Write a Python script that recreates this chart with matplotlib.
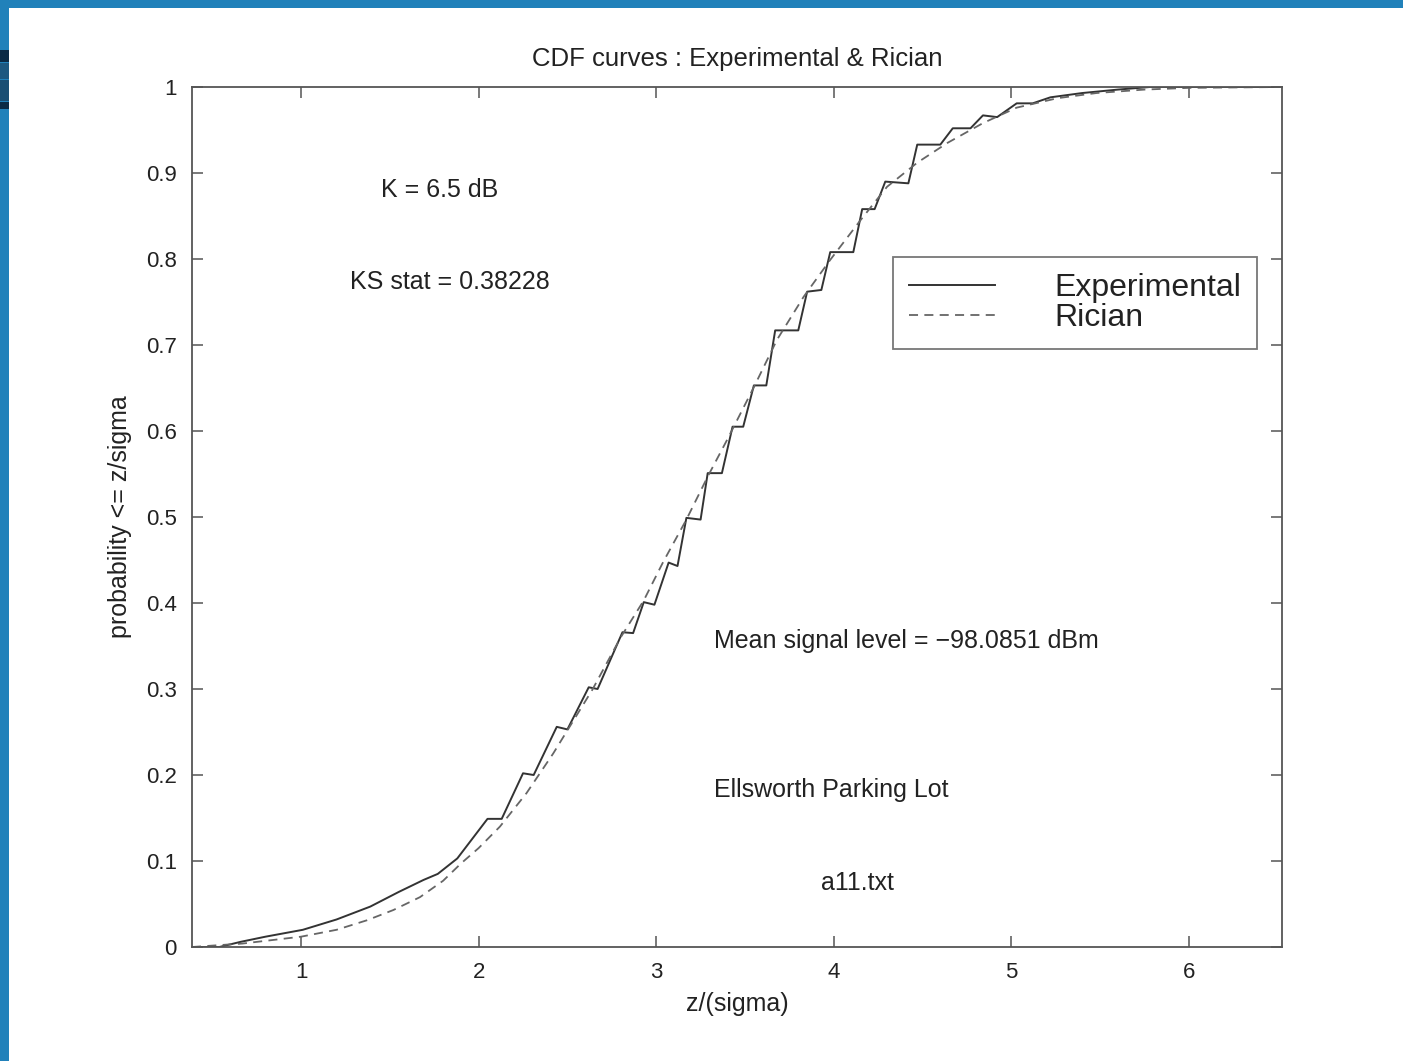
import matplotlib
matplotlib.use("Agg")
import matplotlib.pyplot as plt
from matplotlib.patches import Rectangle

# experimental CDF (staircase-like polyline)
exp_x = [0.386, 0.54, 0.66, 0.80, 1.01, 1.20, 1.39, 1.55, 1.69, 1.77, 1.88,
         2.05, 2.13, 2.25, 2.31, 2.44, 2.50, 2.62, 2.67, 2.81, 2.87, 2.93,
         2.99, 3.07, 3.12, 3.17, 3.25, 3.29, 3.37, 3.43, 3.49, 3.55, 3.62,
         3.67, 3.80, 3.85, 3.93, 3.98, 4.11, 4.16, 4.23, 4.29, 4.42, 4.47,
         4.60, 4.67, 4.77, 4.84, 4.92, 5.03, 5.12, 5.22, 5.40, 5.60, 5.78, 6.524]
exp_y = [0.0, 0.0, 0.006, 0.012, 0.020, 0.032, 0.047, 0.064, 0.078, 0.085, 0.103,
         0.149, 0.149, 0.202, 0.200, 0.256, 0.253, 0.302, 0.300, 0.366, 0.365, 0.401,
         0.398, 0.447, 0.443, 0.499, 0.497, 0.551, 0.551, 0.605, 0.605, 0.653, 0.653,
         0.717, 0.717, 0.762, 0.764, 0.808, 0.808, 0.858, 0.858, 0.890, 0.888, 0.933,
         0.933, 0.952, 0.952, 0.967, 0.965, 0.981, 0.981, 0.988, 0.993, 0.997, 1.0, 1.0]

# fitted Rician CDF
ric_x = [0.386, 0.67, 1.0, 1.20, 1.37, 1.52, 1.67, 1.80, 1.90, 2.00, 2.12, 2.27,
         2.42, 2.53, 2.64, 2.80, 2.93, 3.04, 3.17, 3.29, 3.40, 3.55, 3.68, 3.83,
         3.98, 4.15, 4.30, 4.47, 4.64, 4.84, 5.03, 5.26, 5.48, 5.75, 6.0, 6.524]
ric_y = [0.0, 0.004, 0.012, 0.020, 0.031, 0.043, 0.058, 0.077, 0.097, 0.115, 0.140, 0.179,
         0.225, 0.262, 0.299, 0.360, 0.403, 0.448, 0.497, 0.547, 0.590, 0.651, 0.706, 0.756,
         0.799, 0.845, 0.884, 0.912, 0.935, 0.958, 0.976, 0.987, 0.993, 0.997, 0.999, 1.0]

x_ticks = [1, 2, 3, 4, 5, 6]
x_labels = ["1", "2", "3", "4", "5", "6"]
y_ticks = [0, 0.1, 0.2, 0.3, 0.4, 0.5, 0.6, 0.7, 0.8, 0.9, 1.0]
y_labels = ["0", "0.1", "0.2", "0.3", "0.4", "0.5", "0.6", "0.7", "0.8", "0.9", "1"]

notes = [
    (1.45, 0.880, "K = 6.5 dB"),
    (1.276, 0.773, "KS stat = 0.38228"),
    (3.325, 0.356, "Mean signal level = \u221298.0851 dBm"),
    (3.325, 0.183, "Ellsworth Parking Lot"),
    (3.93, 0.074, "a11.txt"),
]

plt.rcParams["font.family"] = ["Liberation Sans", "DejaVu Sans"]
ink = "#222222"

fig = plt.figure(figsize=(14.03, 10.61), dpi=100)
fig.patch.set_facecolor("white")

# slide frame (blue band on top and left edge)
blue = "#2181ba"
fig.patches.append(Rectangle((0, 1 - 8 / 1061), 1, 8 / 1061, transform=fig.transFigure,
                             facecolor=blue, edgecolor="none", zorder=0))
fig.patches.append(Rectangle((0, 0), 9 / 1403, 1, transform=fig.transFigure,
                             facecolor=blue, edgecolor="none", zorder=0))
for y0, h, c in [(50, 12, "#0b2a45"), (63, 16, "#1d5880"), (80, 21, "#1a4e73"), (102, 7, "#0b2a45")]:
    fig.patches.append(Rectangle((0, 1 - (y0 + h) / 1061), 9 / 1403, h / 1061,
                                 transform=fig.transFigure, facecolor=c,
                                 edgecolor="none", zorder=1))

ax = fig.add_axes([192 / 1403, 1 - 947 / 1061, 1090 / 1403, 860 / 1061])

ax.plot(exp_x, exp_y, color="#333333", linewidth=1.4, label="Experimental")
ax.plot(ric_x, ric_y, color="#666666", linewidth=1.3, linestyle=(0, (5, 3.5)), label="Rician")

ax.set_xlim(0.386, 6.524)
ax.set_ylim(0, 1)
ax.set_xticks(x_ticks)
ax.set_xticklabels(x_labels)
ax.set_yticks(y_ticks)
ax.set_yticklabels(y_labels)
ax.tick_params(direction="in", length=8, width=1.1, top=True, right=True,
               labelsize=16, colors="#555555", labelcolor=ink, pad=11)
for s in ax.spines.values():
    s.set_color("#555555")
    s.set_linewidth(1.3)

ax.set_title("CDF curves : Experimental & Rician", fontsize=18.5, color=ink, pad=15)
ax.set_xlabel("z/(sigma)", fontsize=18, color=ink, labelpad=6)
ax.set_ylabel("probability <= z/sigma", fontsize=18, color=ink, labelpad=10)

for x, y, t in notes:
    ax.text(x, y, t, fontsize=18, color=ink, ha="left", va="center")

leg = ax.legend(loc="upper left", bbox_to_anchor=(0.643, 0.802), fontsize=23,
                frameon=True, fancybox=False, handlelength=2.7, handletextpad=1.85,
                labelspacing=0.0, borderpad=0.5, borderaxespad=0)
leg.get_frame().set_edgecolor("#555555")
leg.get_frame().set_linewidth(1.3)
for t in leg.get_texts():
    t.set_color(ink)

fig.savefig("out.png", dpi=100, facecolor=fig.get_facecolor())
